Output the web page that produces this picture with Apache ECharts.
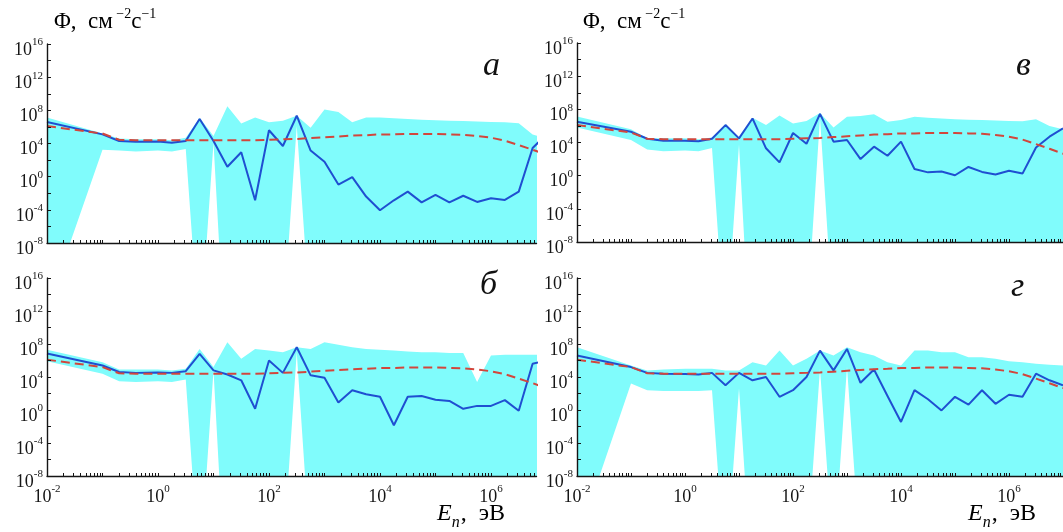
<!DOCTYPE html>
<html><head><meta charset="utf-8">
<script src="https://cdn.jsdelivr.net/npm/echarts@6/dist/echarts.min.js"></script>
<style>html,body{margin:0;padding:0;background:#fff}#c{width:1063px;height:532px}</style>
</head><body><div id="c"></div>
<script>
// log10 of neutron energy E_n (eV)
const logE = [-2, -1, -0.7, -0.4, 0, 0.25, 0.5, 0.75, 1, 1.25, 1.5, 1.75, 2, 2.25, 2.5, 2.75, 3, 3.25, 3.5, 3.75, 4, 4.25, 4.5, 4.75, 5, 5.25, 5.5, 5.75, 6, 6.25, 6.5, 6.75, 7];

// log10 of flux Φ (cm^-2 s^-1)
// panel а
const blueA  = [6.6, 5.1, 4.3, 4.2, 4.25, 4.1, 4.3, 6.95, 4.3, 1.2, 2.95, -2.85, 5.6, 3.7, 7.35, 3.15, 1.8, -0.95, -0.05, -2.4, -4.05, -2.85, -1.8, -3.1, -2.2, -3.1, -2.3, -3.05, -2.6, -2.8, -1.8, 3.45, 5.1];
const upperA = [7.15, 5.2, 4.6, 4.5, 4.5, 4.4, 4.7, 7.1, 4.9, 8.5, 6.4, 7.15, 6.55, 6.75, 7.35, 5.9, 8.1, 7.8, 6.55, 7.15, 7.15, 7.05, 6.95, 6.85, 6.8, 6.75, 6.7, 6.65, 6.6, 6.55, 6.45, 5.1, 4.6];
const lowerA = [-16, 3.25, 3.15, 3.05, 3.15, 3.05, 3.35, -20, 4.1, -26, -30, -30, -30, -18, 6.1, -18, -30, -30, -30, -30, -30, -30, -30, -30, -30, -30, -30, -30, -30, -30, -30, -30, -30];
// panel б
const blueB  = [6.85, 5.4, 4.6, 4.5, 4.55, 4.5, 4.7, 6.8, 4.8, 4.3, 3.6, 0.15, 6.0, 4.5, 7.6, 4.2, 3.9, 0.9, 2.4, 1.9, 1.6, -1.85, 1.6, 1.7, 1.25, 1.1, 0.15, 0.5, 0.5, 1.2, -0.1, 5.6, 6.0];
const upperB = [7.3, 5.8, 4.9, 4.9, 4.9, 4.8, 5.0, 7.4, 5.2, 8.2, 6.2, 7.4, 7.2, 7.0, 7.6, 7.4, 8.2, 7.9, 7.6, 7.4, 7.3, 7.2, 7.1, 7.0, 7.0, 6.9, 6.9, 3.4, 6.6, 6.7, 6.7, 6.7, 6.7];
const lowerB = [5.9, 4.4, 3.5, 3.4, 3.5, 3.4, 3.7, -20, 4.8, -26, -30, -30, -30, -18, 7.0, -18, -30, -30, -30, -30, -30, -30, -30, -30, -30, -30, -30, -30, -30, -30, -30, -30, -30];
// panel в
const blueC  = [6.5, 5.3, 4.45, 4.2, 4.2, 4.15, 4.45, 6.1, 4.5, 6.9, 3.3, 1.6, 5.15, 3.85, 7.45, 4.1, 4.3, 2.0, 3.5, 2.4, 4.1, 0.8, 0.4, 0.5, 0.05, 1.05, 0.45, 0.15, 0.6, 0.25, 3.4, 4.7, 5.7];
const upperC = [7.15, 5.6, 4.5, 4.5, 4.5, 4.4, 4.6, 6.2, 4.6, 7.0, 6.1, 7.25, 6.3, 6.6, 7.55, 5.8, 7.1, 7.2, 7.4, 6.5, 6.7, 7.1, 7.0, 6.9, 6.8, 6.75, 6.7, 6.65, 6.6, 6.55, 6.8, 6.0, 5.6];
const lowerC = [5.8, 4.3, 3.15, 2.95, 3.05, 2.95, 3.35, -20, 3.75, -26, -30, -30, -30, -18, 7.0, -18, -30, -30, -30, -30, -30, -30, -30, -30, -30, -30, -30, -30, -30, -30, -30, -30, -30];
// panel г
const blueD  = [6.6, 5.2, 4.5, 4.4, 4.35, 4.3, 4.5, 3.0, 4.5, 3.6, 4.0, 1.6, 2.4, 4.0, 7.2, 4.8, 7.4, 3.3, 4.9, 1.7, -1.45, 2.4, 1.3, -0.05, 1.6, 0.65, 2.4, 0.75, 1.85, 1.6, 4.4, 3.6, 3.0];
const upperD = [7.6, 5.4, 4.8, 4.9, 5.0, 5.0, 5.0, 4.8, 4.8, 5.8, 5.4, 7.2, 5.4, 6.2, 7.2, 6.6, 7.6, 7.0, 6.6, 5.8, 5.4, 7.2, 7.2, 7.0, 7.0, 6.4, 6.4, 6.2, 5.9, 5.8, 5.6, 5.5, 5.4];
const lowerD = [-16, 3.2, 2.4, 2.3, 2.3, 2.3, 2.4, -20, 2.6, -22, -30, -30, -30, -18, 5.0, -18, 5.2, -18, -30, -30, -30, -30, -30, -30, -30, -30, -30, -30, -30, -30, -30, -30, -30];
// reference spectrum (red dashed), same in all panels
const dashed = [6.1, 5.2, 4.45, 4.4, 4.4, 4.4, 4.4, 4.4, 4.4, 4.4, 4.4, 4.4, 4.45, 4.5, 4.55, 4.65, 4.75, 4.85, 4.95, 5.0, 5.1, 5.1, 5.15, 5.15, 5.15, 5.1, 5.05, 4.9, 4.7, 4.35, 3.8, 3.25, 2.65];

// axis tick exponents
const xLabelExp = [-2, 0, 2, 4, 6];
const yLabelExp = [-8, -4, 0, 4, 8, 12, 16];
const yTickExp = [-8, -6, -4, -2, 0, 2, 4, 6, 8, 10, 12, 14, 16];
const panelLetters = ['а', 'в', 'б', 'г'];

const FONT = '"Liberation Serif", "Times New Roman", serif';
const CYAN = '#80fcfc';
const BLUE = '#1f4fd1';
const RED = '#d2463c';
const INK = '#151515';

const panels = [
  {blue: blueA, up: upperA, lo: lowerA, grid: {left: 47, top: 44, width: 489.5, height: 199}, xMax: 6.82, xLabels: false},
  {blue: blueC, up: upperC, lo: lowerC, grid: {left: 577, top: 43, width: 499.5, height: 199}, xMax: 7.0, xLabels: false},
  {blue: blueB, up: upperB, lo: lowerB, grid: {left: 47, top: 278, width: 489.5, height: 198}, xMax: 6.82, xLabels: true},
  {blue: blueD, up: upperD, lo: lowerD, grid: {left: 577, top: 278, width: 499.5, height: 198}, xMax: 7.0, xLabels: true}
];

function minorTicks(max) {
  const out = [];
  for (let n = -2; n <= 7; n++) for (let k = 1; k <= 9; k++) {
    const v = n + Math.log10(k);
    if (v <= max + 1e-9) out.push(v);
  }
  return out;
}
function powLabel(v) {
  const n = Math.round(v);
  if (Math.abs(v - n) > 1e-6) return '';
  return '{b|10}{s|' + (n < 0 ? '-' + (-n) : String(n)) + '}';
}
const powRich = {
  b: {fontFamily: FONT, fontSize: 18, color: INK, lineHeight: 22, verticalAlign: 'bottom'},
  s: {fontFamily: FONT, fontSize: 11, color: INK, lineHeight: 8, verticalAlign: 'top'}
};

const grids = [], xAxes = [], yAxes = [], series = [];
panels.forEach((p, i) => {
  grids.push(Object.assign({containLabel: false}, p.grid));
  xAxes.push({
    type: 'value', gridIndex: i, min: -2, max: p.xMax, z: 5,
    axisLine: {show: true, onZero: false, lineStyle: {color: INK, width: 1.4}},
    axisTick: {show: true, inside: true, length: 3, customValues: minorTicks(p.xMax), lineStyle: {color: INK, width: 1}},
    axisLabel: {show: p.xLabels, customValues: xLabelExp, formatter: powLabel, rich: powRich, margin: 8},
    splitLine: {show: false}
  });
  yAxes.push({
    type: 'value', gridIndex: i, min: -8, max: 16, z: 5,
    axisLine: {show: true, onZero: false, lineStyle: {color: INK, width: 1.4}},
    axisTick: {show: true, inside: true, length: 4, customValues: yTickExp, lineStyle: {color: INK, width: 1}},
    axisLabel: {show: true, customValues: yLabelExp, formatter: powLabel, rich: powRich, margin: 4, padding: [8, 0, 0, 0]},
    splitLine: {show: false}
  });
  const up = p.up, lo = p.lo;
  series.push({
    type: 'custom', xAxisIndex: i, yAxisIndex: i, clip: true, silent: true, z: 1,
    data: [[logE[0], up[0]]],
    renderItem: function (params, api) {
      const pts = [];
      for (let j = 0; j < logE.length; j++) pts.push(api.coord([logE[j], up[j]]));
      for (let j = logE.length - 1; j >= 0; j--) pts.push(api.coord([logE[j], lo[j]]));
      return {type: 'polygon', shape: {points: pts}, style: {fill: CYAN}};
    }
  });
  series.push({
    type: 'line', xAxisIndex: i, yAxisIndex: i, silent: true, z: 3, clip: true,
    data: logE.map((x, j) => [x, p.blue[j]]), symbol: 'none',
    lineStyle: {color: BLUE, width: 2}
  });
  series.push({
    type: 'line', xAxisIndex: i, yAxisIndex: i, silent: true, z: 4, clip: true,
    data: logE.map((x, j) => [x, dashed[j]]), symbol: 'none',
    lineStyle: {color: RED, width: 2, type: [9, 5]}
  });
});

const titleRich = {
  b: {fontFamily: FONT, fontSize: 23, color: INK, lineHeight: 26, verticalAlign: 'bottom'},
  s: {fontFamily: FONT, fontSize: 14, color: INK, lineHeight: 19, verticalAlign: 'top'}
};
const enRich = {
  i: {fontFamily: FONT, fontStyle: 'italic', fontSize: 24, color: INK, lineHeight: 24, verticalAlign: 'top'},
  sub: {fontFamily: FONT, fontStyle: 'italic', fontSize: 16, color: INK, lineHeight: 16, padding: [13, 1, 0, 0], verticalAlign: 'top'},
  b: {fontFamily: FONT, fontSize: 24, color: INK, lineHeight: 24, verticalAlign: 'top'}
};
const graphics = [];
[[54, 7], [583, 7]].forEach(([x, y]) => graphics.push({
  type: 'text', left: x, top: y, z: 10,
  style: {text: '{b|Φ,  см}{s| −2}{b|с}{s|−1}', rich: titleRich}
}));
[[437, 502], [968, 502]].forEach(([x, y]) => graphics.push({
  type: 'text', left: x, top: y, z: 10,
  style: {text: '{i|E}{sub|n}{b|,  эВ}', rich: enRich}
}));
[[483, 49], [1016, 49], [480, 268], [1011, 270]].forEach(([x, y], k) => graphics.push({
  type: 'text', left: x, top: y, z: 10,
  style: {text: panelLetters[k], font: 'italic 34px ' + FONT, fill: '#111'}
}));

const chart = echarts.init(document.getElementById('c'), null, {renderer: 'canvas'});
chart.setOption({
  animation: false,
  backgroundColor: '#fff',
  grid: grids, xAxis: xAxes, yAxis: yAxes, series: series,
  graphic: graphics
});
</script></body></html>
